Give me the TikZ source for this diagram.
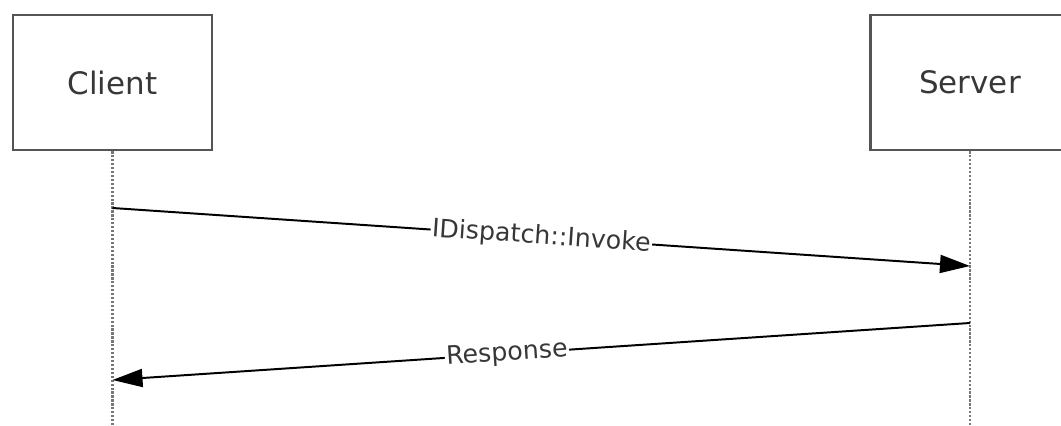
\documentclass[tikz,border=0pt]{standalone}
\usepackage{fontspec}
\setmainfont{DejaVu Sans}
\usetikzlibrary{arrows.meta,positioning}
\definecolor{seqgray}{RGB}{85,85,85}
\definecolor{seqtext}{RGB}{55,55,55}
\tikzstyle{actor} = [rectangle, draw=seqgray, line width=1.8pt, fill=white, minimum width=4.975cm, minimum height=3.375cm, font=\fontsize{22}{26}\selectfont, text=seqtext]
\tikzstyle{lifeline} = [seqgray!80, line width=2pt, dash pattern=on 1.6pt off 1.2pt]
\tikzstyle{message} = [line width=1.4pt, -{Triangle[length=0.75cm,width=0.45cm]}]
\tikzstyle{msglabel} = [fill=white, inner sep=1pt, sloped, font=\fontsize{18}{21}\selectfont, text=seqtext]

\begin{document}
\begin{tikzpicture}[x=0.025cm, y=-0.025cm]
\useasboundingbox (0,0) rectangle (1061,426);
\clip (0,0) rectangle (1061,426);

% Actors
\node[actor] (client) at (112.5,82.5) {Client};
\node[actor] (server) at (970,82.5) {Server};

% Lifelines
\coordinate (clientend) at (112.5,426);
\coordinate (serverend) at (970,426);
\draw[lifeline] (client.south) -- (clientend);
\draw[lifeline] (server.south) -- (serverend);

% Messages
\coordinate (callstart) at (112.5,208);
\coordinate (callend) at (970,266);
\coordinate (replystart) at (970,323);
\coordinate (replyend) at (112.5,380);
\draw[message] (callstart) -- node[msglabel] {IDispatch::Invoke} (callend);
\draw[message] (replystart) -- node[msglabel, pos=0.54] {Response} (replyend);
\end{tikzpicture}
\end{document}
